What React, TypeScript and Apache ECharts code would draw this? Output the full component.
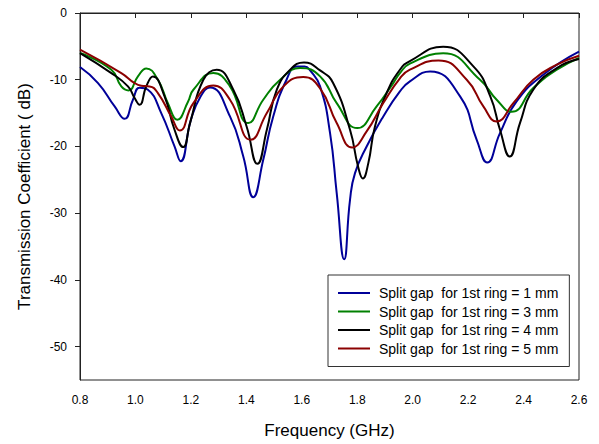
import React, { useEffect, useRef } from "react";
import * as echarts from "echarts";

const xTicks = [0.8, 1.0, 1.2, 1.4, 1.6, 1.8, 2.0, 2.2, 2.4, 2.6];
const yTicks = [-50, -40, -30, -20, -10, 0];

const seriesNames = [
  "Split gap  for 1st ring = 1 mm",
  "Split gap  for 1st ring = 3 mm",
  "Split gap  for 1st ring = 4 mm",
  "Split gap  for 1st ring = 5 mm",
];

const blueFreq = [0.8, 0.865, 0.925, 0.961, 0.991, 1.015, 1.045, 1.093, 1.141, 1.163, 1.2, 1.235, 1.269, 1.341, 1.389, 1.425, 1.461, 1.497, 1.545, 1.582, 1.61, 1.63, 1.666, 1.702, 1.726, 1.753, 1.774, 1.792, 1.834, 1.894, 1.954, 1.99, 2.063, 2.171, 2.231, 2.269, 2.315, 2.375, 2.471, 2.6];
const blueDb = [-8.1, -10.5, -14, -15.85, -13, -11.2, -11.5, -15, -20, -22.2, -16, -12.5, -11.15, -15.5, -21.5, -27.6, -22, -15.5, -10, -8, -8.0, -8.6, -11, -18, -27, -36.9, -28, -24, -20, -15.5, -11.75, -10.25, -8.75, -12.5, -19, -22.4, -18, -13.25, -9.25, -5.8];

const greenFreq = [0.8, 0.913, 0.949, 0.975, 1.009, 1.039, 1.081, 1.117, 1.151, 1.19, 1.209, 1.281, 1.341, 1.407, 1.461, 1.522, 1.594, 1.666, 1.726, 1.8, 1.87, 1.93, 1.954, 1.99, 2.11, 2.243, 2.303, 2.357, 2.435, 2.52, 2.6];
const greenDb = [-6, -8.5, -11, -11.6, -9.5, -8.3, -10, -13.5, -16, -13.25, -11.5, -9, -11, -16.5, -13, -10, -8.25, -9.5, -13.5, -17.25, -14, -10.5, -9.0, -7.6, -6.05, -10, -13, -14.8, -11.25, -8.5, -6.75];

const blackFreq = [0.8, 0.913, 0.973, 0.997, 1.015, 1.039, 1.063, 1.105, 1.141, 1.172, 1.197, 1.245, 1.293, 1.353, 1.401, 1.44, 1.474, 1.51, 1.558, 1.608, 1.666, 1.713, 1.774, 1.803, 1.82, 1.84, 1.864, 1.906, 1.954, 1.99, 2.11, 2.219, 2.28, 2.315, 2.35, 2.387, 2.435, 2.52, 2.6];
const blackDb = [-6, -9, -11, -12.75, -13.75, -11, -9.5, -12.5, -17.5, -20.1, -16.5, -10, -8.5, -11.5, -17, -22.6, -17.5, -11.5, -8.5, -7.4, -8.6, -10.5, -17.5, -23, -24.8, -22.5, -17, -12, -8.5, -7.2, -5.05, -8, -12.5, -17.5, -21.5, -16.5, -11.5, -8.25, -6.9];

const redFreq = [0.8, 0.949, 0.997, 1.021, 1.051, 1.081, 1.129, 1.16, 1.209, 1.281, 1.341, 1.416, 1.474, 1.534, 1.605, 1.666, 1.726, 1.782, 1.834, 1.894, 1.954, 1.99, 2.093, 2.195, 2.255, 2.303, 2.363, 2.435, 2.52, 2.6];
const redDb = [-5.5, -9, -10.5, -10.9, -11, -12, -15.5, -17.6, -13.5, -10.85, -13, -19, -15, -11, -9.6, -11.3, -16.5, -20.15, -17.75, -13.5, -9.8, -8.5, -7.1, -10, -14, -16.25, -13.5, -10, -7.75, -6.4];

const colors = ["#000099", "#008000", "#000000", "#8b0000"];
const freqs = [blueFreq, greenFreq, blackFreq, redFreq];
const dbs = [blueDb, greenDb, blackDb, redDb];

const FONT = "'Liberation Sans', Arial, sans-serif";

export default function App() {
  const ref = useRef<HTMLDivElement>(null);
  useEffect(() => {
    if (!ref.current) return;
    const chart = echarts.init(ref.current, null, { renderer: "svg" });
    chart.setOption({
      animation: false,
      backgroundColor: "#fff",
      textStyle: { fontFamily: FONT },
      grid: {
        left: 80,
        right: 20,
        top: 13,
        bottom: 64,
        show: true,
        borderColor: "#222",
        borderWidth: 1,
        backgroundColor: "transparent",
      },
      legend: {
        orient: "vertical",
        left: 328,
        top: 275,
        data: seriesNames,
        icon: "rect",
        borderColor: "#333",
        borderWidth: 1,
        padding: [10.5, 11, 10.5, 10],
        itemGap: 3.5,
        itemWidth: 32,
        itemHeight: 2,
        textStyle: {
          fontSize: 14,
          lineHeight: 15,
          color: "#000",
          fontFamily: FONT,
          padding: [0, 0, 0, 4],
        },
      },
      xAxis: {
        type: "value",
        min: 0.8,
        max: 2.6,
        interval: 0.2,
        name: "Frequency (GHz)",
        nameLocation: "middle",
        nameGap: 42,
        nameTextStyle: { fontSize: 17, color: "#000", fontFamily: FONT },
        axisLine: { lineStyle: { color: "#222", width: 1 } },
        axisTick: { show: true, length: 5, lineStyle: { color: "#222" } },
        axisLabel: {
          fontSize: 12,
          color: "#000",
          margin: 14,
          customValues: xTicks,
          formatter: (v: number) => v.toFixed(1),
        },
        splitLine: { show: false },
      },
      yAxis: {
        type: "value",
        min: -55,
        max: 0,
        name: "Transmission Coefficient ( dB)",
        nameLocation: "middle",
        nameGap: 47,
        nameTextStyle: { fontSize: 17, color: "#000", fontFamily: FONT },
        axisLine: { lineStyle: { color: "#222", width: 1 } },
        axisTick: { show: true, length: 5, customValues: yTicks, lineStyle: { color: "#222" } },
        axisLabel: {
          fontSize: 12,
          color: "#000",
          margin: 13,
          customValues: yTicks,
          formatter: (v: number) => String(v),
        },
        splitLine: { show: false },
      },
      series: seriesNames.map((name, i) => ({
        name,
        type: "line",
        smooth: 0.5,
        symbol: "none",
        color: colors[i],
        lineStyle: { color: colors[i], width: 2 },
        data: freqs[i].map((f, j) => [f, dbs[i][j]]),
      })),
    });
    return () => chart.dispose();
  }, []);
  return <div ref={ref} style={{ width: 599, height: 444, position: "fixed", left: 0, top: 0 }} />;
}
